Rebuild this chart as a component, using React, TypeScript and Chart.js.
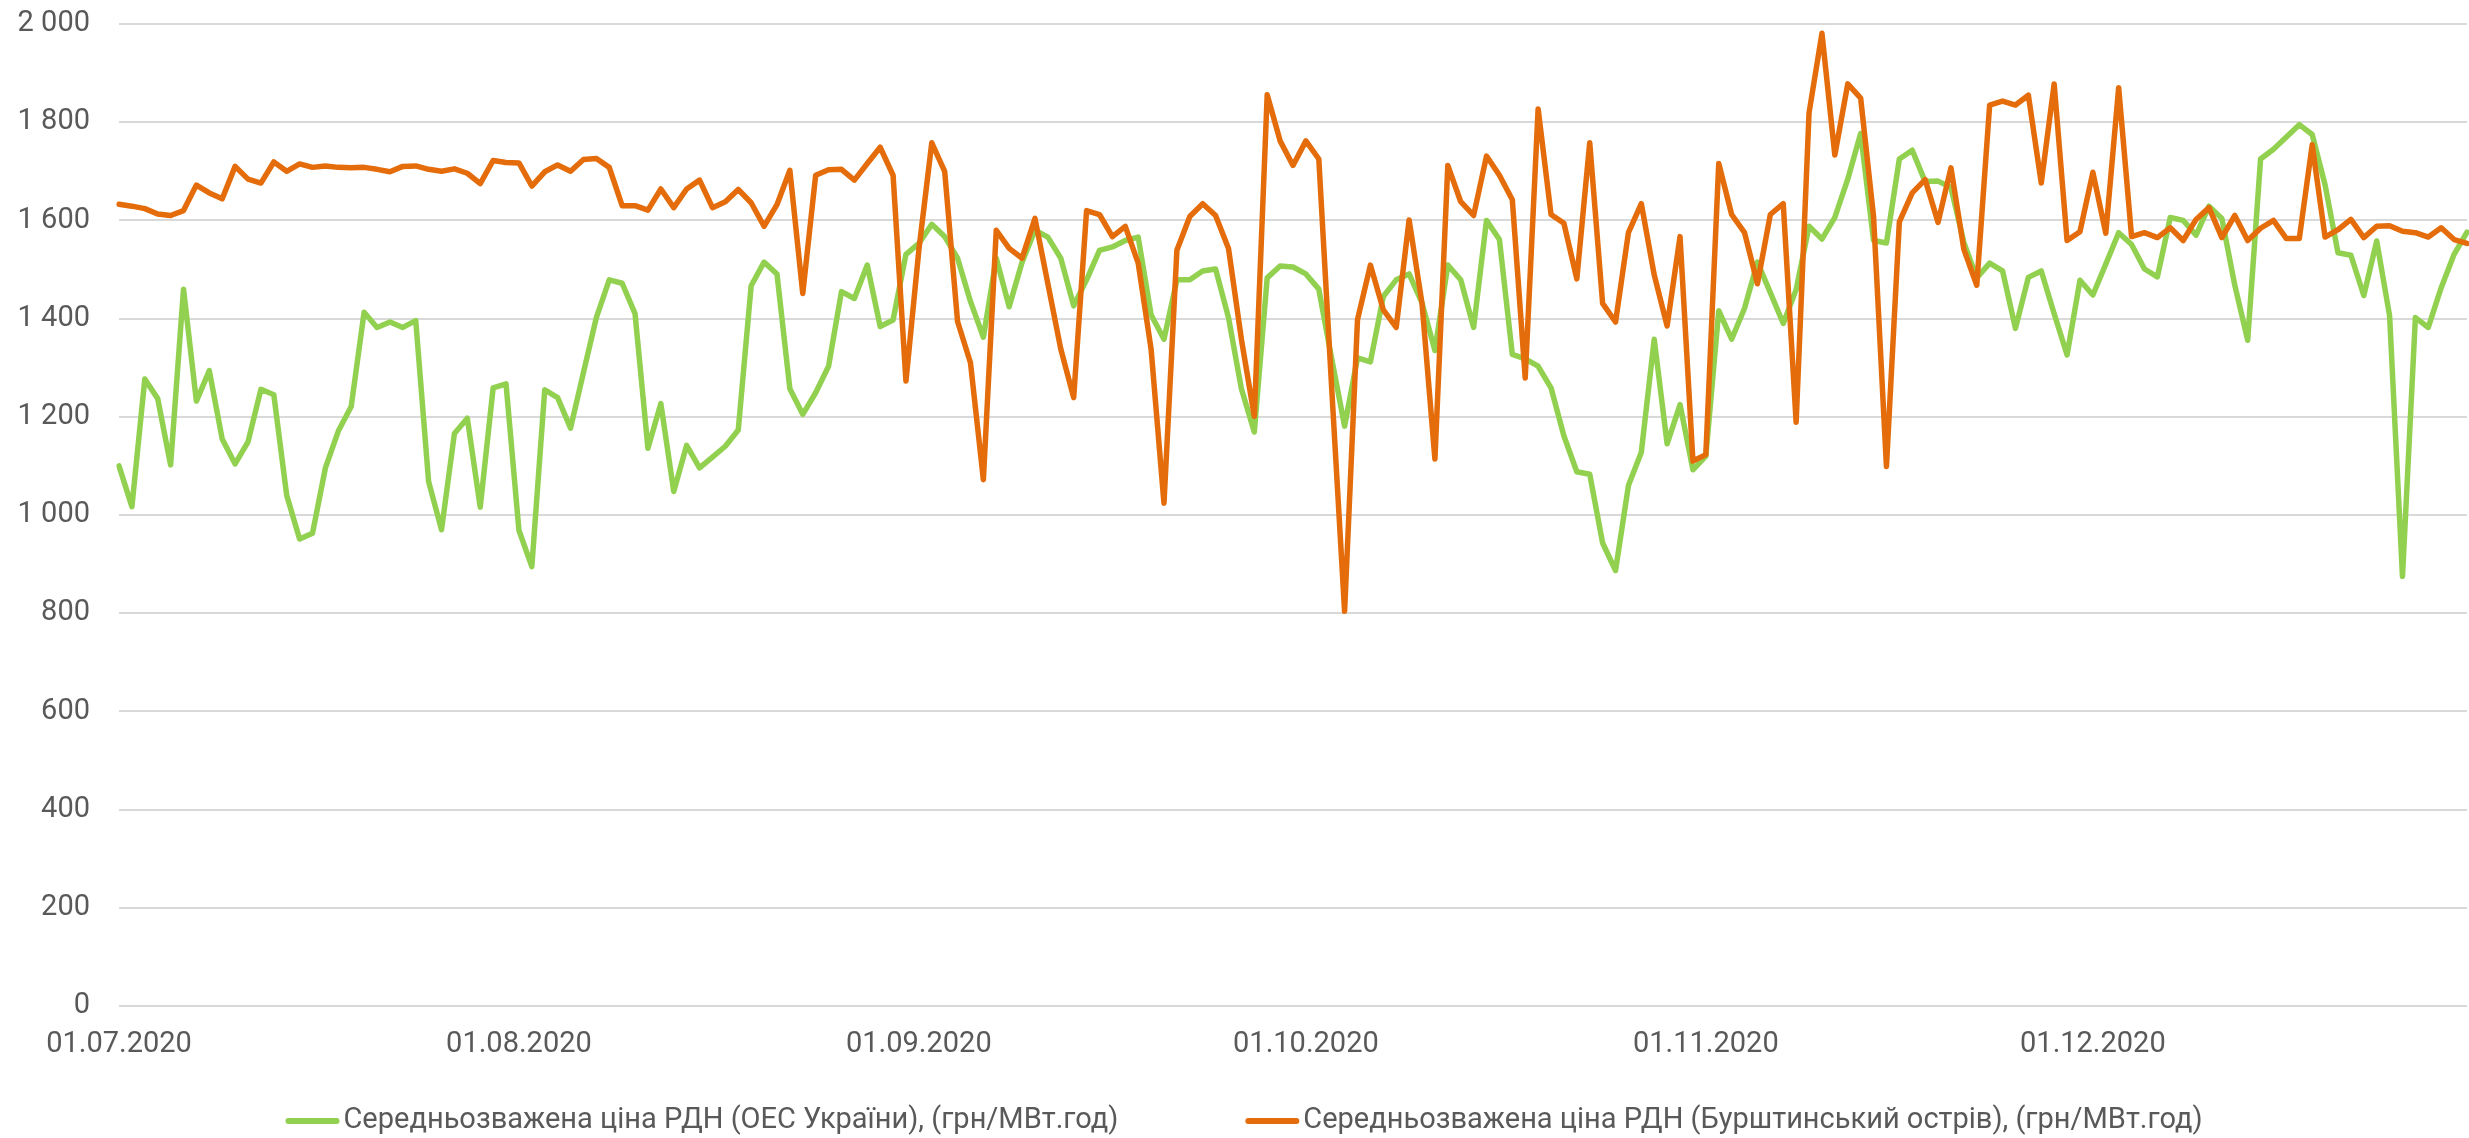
import React, { useEffect, useRef } from 'react';
import { Chart, registerables } from 'chart.js';

Chart.register(...registerables);

// ---- data ----
const START_YEAR = 2020;
const START_MONTH_INDEX = 6; // July
const DAY_COUNT = 183;

const X_TICK_LABELS = ['01.07.2020', '01.08.2020', '01.09.2020', '01.10.2020', '01.11.2020', '01.12.2020'];

const SERIES_NAMES = [
  'Середньозважена ціна РДН (ОЕС України), (грн/МВт.год)',
  'Середньозважена ціна РДН (Бурштинський острів), (грн/МВт.год)',
];

const OES_PRICES = [
  1100, 1017, 1277, 1237, 1102, 1460, 1232, 1294, 1155, 1104,
  1149, 1256, 1245, 1040, 951, 963, 1096, 1171, 1221, 1413,
  1382, 1393, 1382, 1396, 1068, 970, 1166, 1197, 1016, 1259,
  1267, 969, 895, 1255, 1239, 1177, 1290, 1402, 1479, 1472,
  1410, 1136, 1227, 1048, 1142, 1096, 1118, 1140, 1173, 1467,
  1515, 1491, 1257, 1205, 1249, 1303, 1455, 1441, 1509, 1384,
  1397, 1531, 1553, 1592, 1567, 1523, 1435, 1362, 1523, 1424,
  1515, 1580, 1566, 1523, 1426, 1479, 1539, 1546, 1559, 1566,
  1408, 1358, 1479, 1479, 1497, 1501, 1402, 1257, 1169, 1483,
  1507, 1505, 1491, 1460, 1318, 1181, 1320, 1312, 1445, 1479,
  1491, 1432, 1335, 1509, 1479, 1382, 1600, 1561, 1327, 1318,
  1303, 1259, 1161, 1088, 1083, 943, 887, 1060, 1128, 1358,
  1145, 1225, 1092, 1120, 1416, 1358, 1421, 1515, 1453, 1390,
  1459, 1588, 1562, 1606, 1684, 1777, 1559, 1554, 1725, 1743,
  1679, 1680, 1667, 1555, 1483, 1513, 1497, 1380, 1484, 1497,
  1410, 1326, 1478, 1448, 1511, 1575, 1551, 1501, 1485, 1606,
  1600, 1570, 1629, 1604, 1468, 1356, 1725, 1745, 1770, 1795,
  1775, 1672, 1534, 1529, 1447, 1558, 1406, 875, 1402, 1382,
  1463, 1531, 1576,
];

const BURSHTYN_PRICES = [
  1633, 1629, 1624, 1613, 1610, 1620, 1672, 1656, 1644, 1710,
  1684, 1676, 1719, 1700, 1715, 1708, 1711, 1708, 1707, 1708,
  1704, 1699, 1710, 1711, 1704, 1700, 1705, 1696, 1675, 1722,
  1718, 1717, 1670, 1699, 1713, 1700, 1724, 1726, 1708, 1630,
  1630, 1621, 1664, 1626, 1664, 1682, 1626, 1638, 1663, 1636,
  1588, 1632, 1702, 1451, 1692, 1703, 1704, 1682, 1716, 1749,
  1692, 1273, 1540, 1758, 1700, 1394, 1310, 1072, 1580, 1543,
  1523, 1604, 1471, 1338, 1239, 1620, 1612, 1567, 1588, 1513,
  1338, 1024, 1539, 1608, 1634, 1610, 1543, 1358, 1201, 1856,
  1762, 1712, 1762, 1725, 1258, 804, 1398, 1509, 1418, 1382,
  1601, 1431, 1114, 1712, 1638, 1610, 1731, 1692, 1642, 1279,
  1827, 1612, 1594, 1481, 1758, 1431, 1393, 1575, 1634, 1489,
  1385, 1567, 1110, 1123, 1716, 1612, 1575, 1471, 1612, 1634,
  1189, 1819, 1981, 1733, 1878, 1849, 1608, 1099, 1597, 1656,
  1683, 1596, 1707, 1541, 1468, 1835, 1843, 1835, 1855, 1676,
  1878, 1559, 1577, 1698, 1574, 1870, 1567, 1575, 1565, 1585,
  1559, 1602, 1626, 1565, 1610, 1559, 1584, 1600, 1563, 1563,
  1754, 1566, 1581, 1602, 1565, 1588, 1589, 1578, 1575, 1566,
  1585, 1561, 1553,
];

const SERIES_COLORS = ['#92D050', '#E46C0A'];

// ---- helpers ----
function buildDateLabels(): string[] {
  const out: string[] = [];
  for (let i = 0; i < DAY_COUNT; i++) {
    const d = new Date(START_YEAR, START_MONTH_INDEX, 1 + i);
    const dd = String(d.getDate()).padStart(2, '0');
    const mm = String(d.getMonth() + 1).padStart(2, '0');
    out.push(`${dd}.${mm}.${d.getFullYear()}`);
  }
  return out;
}

function formatThousands(v: number): string {
  return String(v).replace(/\B(?=(\d{3})+(?!\d))/g, ' ');
}

const FONT_FAMILY = 'Roboto, "Liberation Sans", sans-serif';
const TEXT_COLOR = '#595959';

const legendPlugin = {
  id: 'bottomLegend',
  afterDraw(chart: any) {
    const ctx = chart.ctx as CanvasRenderingContext2D;
    const datasets = chart.data.datasets;
    ctx.save();
    ctx.font = `29px ${FONT_FAMILY}`;
    const sampleW = 54;
    const textGap = 4;
    const itemGap = 127;
    const widths = datasets.map((ds: any) => sampleW + textGap + ctx.measureText(ds.label).width);
    const total = widths.reduce((a: number, b: number) => a + b, 0) + itemGap * (datasets.length - 1);
    let x = 1244 - total / 2;
    const y = chart.height - 17;
    datasets.forEach((ds: any, i: number) => {
      ctx.strokeStyle = ds.borderColor;
      ctx.lineWidth = 6;
      ctx.lineCap = 'round';
      ctx.beginPath();
      ctx.moveTo(x + 3, y);
      ctx.lineTo(x + sampleW - 3, y);
      ctx.stroke();
      ctx.fillStyle = TEXT_COLOR;
      ctx.textAlign = 'left';
      ctx.textBaseline = 'middle';
      ctx.fillText(ds.label, x + sampleW + textGap, y);
      x += widths[i] + itemGap;
    });
    ctx.restore();
  },
};

export default function App() {
  const canvasRef = useRef<HTMLCanvasElement | null>(null);

  useEffect(() => {
    document.body.style.margin = '0';
    document.body.style.overflow = 'hidden';
    const canvas = canvasRef.current;
    if (!canvas) return;
    const labels = buildDateLabels();
    const chart = new Chart(canvas, {
      type: 'line',
      data: {
        labels,
        datasets: [
          {
            label: SERIES_NAMES[0],
            data: OES_PRICES,
            borderColor: SERIES_COLORS[0],
            backgroundColor: SERIES_COLORS[0],
            borderWidth: 5.5,
            pointRadius: 0,
            pointHoverRadius: 0,
            tension: 0,
            borderJoinStyle: 'round',
            borderCapStyle: 'round',
            order: 1,
          },
          {
            label: SERIES_NAMES[1],
            data: BURSHTYN_PRICES,
            borderColor: SERIES_COLORS[1],
            backgroundColor: SERIES_COLORS[1],
            borderWidth: 5.5,
            pointRadius: 0,
            pointHoverRadius: 0,
            tension: 0,
            borderJoinStyle: 'round',
            borderCapStyle: 'round',
            order: 0,
          },
        ],
      },
      options: {
        responsive: false,
        animation: false,
        devicePixelRatio: 1,
        layout: { autoPadding: false, padding: { left: 18, right: 2, top: 24, bottom: 76 } },
        plugins: {
          legend: { display: false },
          tooltip: { enabled: false },
        },
        scales: {
          x: {
            type: 'category',
            offset: false,
            grid: { display: false, drawTicks: false },
            border: { display: false },
            afterFit: (s: any) => {
              s.height = 56;
              s.paddingLeft = 0;
              s.paddingRight = 0;
            },
            ticks: {
              autoSkip: false,
              maxRotation: 0,
              minRotation: 0,
              padding: 21,
              color: TEXT_COLOR,
              font: { family: FONT_FAMILY, size: 29 },
              callback: function (this: any, value: any) {
                const l = this.getLabelForValue(value);
                return X_TICK_LABELS.includes(l) ? l : '';
              },
            },
          },
          y: {
            min: 0,
            max: 2000,
            grid: { color: '#d9d9d9', lineWidth: 2, drawTicks: false },
            border: { display: false },
            afterFit: (s: any) => {
              s.width = 101;
              s.paddingTop = 0;
              s.paddingBottom = 0;
            },
            ticks: {
              stepSize: 200,
              padding: 29,
              color: TEXT_COLOR,
              font: { family: FONT_FAMILY, size: 29 },
              callback: (v: any) => formatThousands(Number(v)),
            },
          },
        },
      },
      plugins: [legendPlugin],
    });
    return () => chart.destroy();
  }, []);

  return (
    <div style={{ width: 2469, height: 1138 }}>
      <canvas ref={canvasRef} width={2469} height={1138} style={{ display: 'block' }} />
    </div>
  );
}
